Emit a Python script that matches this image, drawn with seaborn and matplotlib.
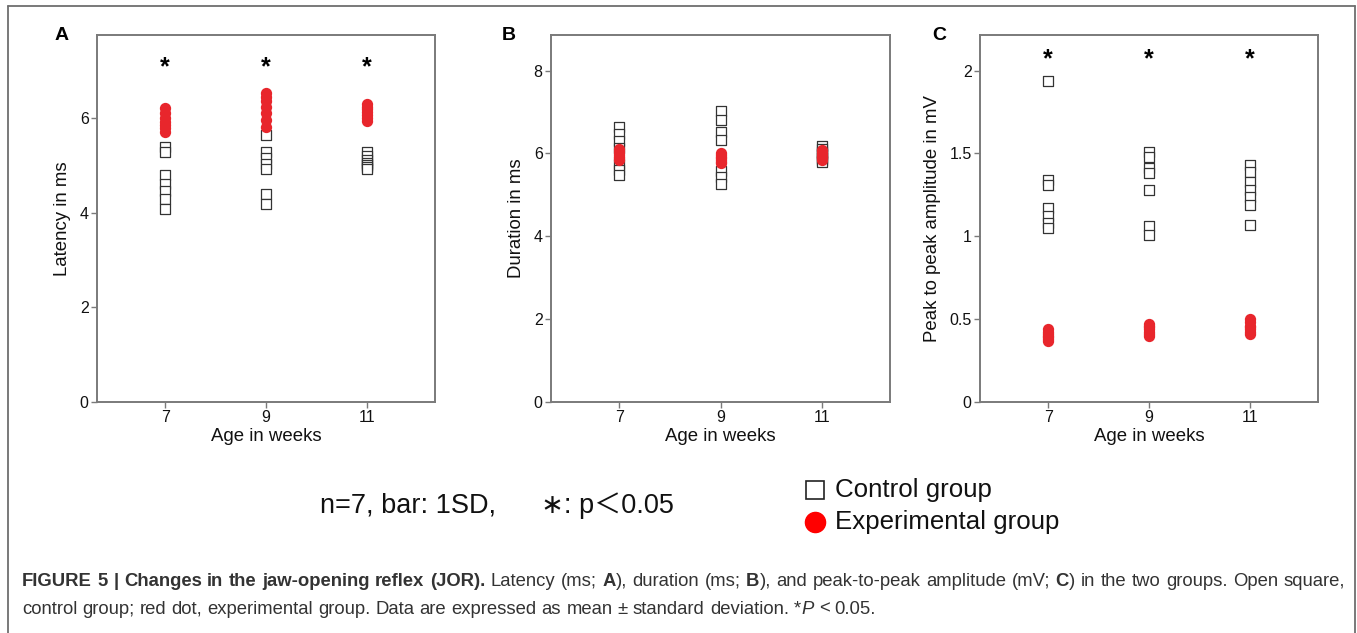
import numpy as np
import pandas as pd
import matplotlib
matplotlib.use("Agg")
import matplotlib.pyplot as plt
import seaborn as sns
from matplotlib.lines import Line2D
from matplotlib.transforms import ScaledTranslation

# ---------------- data ----------------
weeks = [7, 9, 11]
groups = ["Control group", "Experimental group"]

latency_control = [[5.38, 5.27, 4.80, 4.60, 4.45, 4.28, 4.08],
                   [5.64, 5.27, 5.15, 5.03, 4.92, 4.40, 4.18],
                   [5.27, 5.20, 5.12, 5.05, 5.00, 4.96, 4.92]]
latency_exp = [[6.20, 6.10, 6.00, 5.92, 5.85, 5.78, 5.70],
               [6.53, 6.45, 6.35, 6.22, 6.10, 5.95, 5.80],
               [6.30, 6.24, 6.18, 6.12, 6.06, 6.00, 5.94]]

duration_control = [[6.65, 6.48, 6.30, 6.12, 5.75, 5.60, 5.47],
                    [7.03, 6.82, 6.52, 6.32, 5.58, 5.42, 5.26],
                    [6.18, 6.10, 6.04, 5.98, 5.90, 5.84, 5.79]]
duration_exp = [[6.10, 6.05, 6.00, 5.96, 5.92, 5.88, 5.84],
                [6.02, 5.97, 5.92, 5.88, 5.84, 5.80, 5.77],
                [6.08, 6.03, 5.99, 5.95, 5.91, 5.88, 5.85]]

amplitude_control = [[1.94, 1.34, 1.31, 1.17, 1.12, 1.08, 1.05],
                     [1.51, 1.48, 1.41, 1.38, 1.28, 1.06, 1.01],
                     [1.43, 1.39, 1.33, 1.28, 1.24, 1.19, 1.07]]
amplitude_exp = [[0.44, 0.42, 0.41, 0.40, 0.39, 0.38, 0.37],
                 [0.47, 0.46, 0.45, 0.44, 0.42, 0.41, 0.40],
                 [0.50, 0.48, 0.46, 0.45, 0.44, 0.42, 0.41]]

star_weeks = [7, 9, 11]
latency_star_y = 7.17
amplitude_star_y = 2.095

panel_letters = ["A", "B", "C"]
y_labels = ["Latency in ms", "Duration in ms", "Peak to peak amplitude in mV"]
x_label = "Age in weeks"
y_ticks = [[0, 2, 4, 6], [0, 2, 4, 6, 8], [0, 0.5, 1, 1.5, 2]]
y_ticklabels = [["0", "2", "4", "6"], ["0", "2", "4", "6", "8"],
                ["0", "0.5", "1", "1.5", "2"]]
y_limits = [(0, 7.75), (0, 8.86), (0, 2.215)]

note_text = "n=7, bar: 1SD,      \u2217: p\uff1c0.05"

caption_line1 = [("FIGURE 5 | Changes in the jaw-opening reflex (JOR).", "bold", "normal"),
                 (" Latency (ms; ", "normal", "normal"),
                 ("A", "bold", "normal"),
                 ("), duration (ms; ", "normal", "normal"),
                 ("B", "bold", "normal"),
                 ("), and peak-to-peak amplitude (mV; ", "normal", "normal"),
                 ("C", "bold", "normal"),
                 (") in the two groups. Open square,", "normal", "normal")]
caption_line2 = [("control group; red dot, experimental group. Data are expressed as mean \u00b1 standard deviation. *", "normal", "normal"),
                 ("P", "normal", "italic"),
                 (" < 0.05.", "normal", "normal")]


def long_frame(ctrl, exp):
    rows = []
    for g, arr in zip(groups, [ctrl, exp]):
        for w, vals in zip(weeks, arr):
            for v in vals:
                rows.append({"week": w, "value": v, "group": g})
    return pd.DataFrame(rows)


frames = [long_frame(latency_control, latency_exp),
          long_frame(duration_control, duration_exp),
          long_frame(amplitude_control, amplitude_exp)]
star_levels = [latency_star_y, None, amplitude_star_y]

# ---------------- style ----------------
sns.set_style("ticks")
plt.rcParams["font.family"] = ["Liberation Sans", "DejaVu Sans"]

W, H = 1357, 633
fig = plt.figure(figsize=(W / 100, H / 100), dpi=100)
fig.patch.set_facecolor("white")

RED = "#e8262c"
SPINE = "#7a7a7a"

boxes = [(97, 35, 435, 402), (551, 35, 890, 402), (980, 35, 1318, 402)]
letter_x = [62, 509, 939]

for i, (l, t, r, b) in enumerate(boxes):
    ax = fig.add_axes([l / W, 1 - b / H, (r - l) / W, (b - t) / H])
    df = frames[i]
    sns.scatterplot(data=df[df.group == groups[0]], x="week", y="value", ax=ax,
                    marker="s", s=55, facecolor="white", edgecolor="#333333",
                    linewidth=0.9, legend=False, zorder=3)
    sns.scatterplot(data=df[df.group == groups[1]], x="week", y="value", ax=ax,
                    marker="o", s=66, color=RED, edgecolor=RED, linewidth=0,
                    legend=False, zorder=4)
    ax.set_xlim(5.65, 12.35)
    ax.set_ylim(*y_limits[i])
    ax.set_xticks(weeks)
    ax.set_xticklabels([str(w) for w in weeks])
    ax.set_yticks(y_ticks[i])
    ax.set_yticklabels(y_ticklabels[i])
    ax.set_xlabel(x_label, fontsize=13.4, color="#111111", labelpad=2)
    ax.set_ylabel(y_labels[i], fontsize=13.4, color="#111111", labelpad=6)
    for sp in ax.spines.values():
        sp.set_visible(True)
        sp.set_color(SPINE)
        sp.set_linewidth(1.4)
    ax.tick_params(axis="both", direction="out", length=4, width=1.0,
                   color=SPINE, labelsize=11.5, labelcolor="#111111", pad=2)
    if star_levels[i] is not None:
        off = ax.transData + ScaledTranslation(0, -8.2 / 72, fig.dpi_scale_trans)
        for w in star_weeks:
            ax.text(w, star_levels[i], "*", transform=off, ha="center",
                    va="baseline", fontsize=18, fontweight="bold", color="black")
    fig.text(letter_x[i] / W, 1 - 35 / H, panel_letters[i], ha="center",
             va="center", fontsize=14, fontweight="bold", color="black")

# ---------------- note & legend ----------------
fig.text(320 / W, 1 - 506 / H, note_text, ha="left", va="center",
         fontsize=19.5, color="#111111",
         family=["Liberation Sans", "Noto Sans CJK SC", "DejaVu Sans"])

fig.add_artist(Line2D([815 / W], [1 - 490 / H], marker="s", markersize=13,
                      markerfacecolor="white", markeredgecolor="#222222",
                      markeredgewidth=1.2, linestyle="none",
                      transform=fig.transFigure))
fig.add_artist(Line2D([815 / W], [1 - 522 / H], marker="o", markersize=14.5,
                      markerfacecolor="#ff0000", markeredgecolor="#ff0000",
                      linestyle="none", transform=fig.transFigure))
fig.text(835 / W, 1 - 490 / H, groups[0], ha="left", va="center",
         fontsize=18.6, color="#111111")
fig.text(835 / W, 1 - 522 / H, groups[1], ha="left", va="center",
         fontsize=18.6, color="#111111")

# ---------------- caption ----------------
renderer = fig.canvas.get_renderer()
CAP_SIZE = 13.3
CAP_COLOR = "#333333"


def text_width(s, weight, style):
    t = fig.text(0, 0, s, fontsize=CAP_SIZE, fontweight=weight, fontstyle=style)
    w = t.get_window_extent(renderer).width
    t.remove()
    return w


def layout(pieces):
    """Split pieces into words/spaces with natural widths."""
    items = []
    for txt, weight, style in pieces:
        sw = text_width("a a", weight, style) - text_width("aa", weight, style)
        parts = txt.split(" ")
        for k, p in enumerate(parts):
            if k > 0:
                items.append(("space", sw, None))
            if p:
                items.append(("word", text_width(p, weight, style), (p, weight, style)))
    return items


def draw_rich(pieces, x0, y, justify_to=None):
    items = layout(pieces)
    natural = sum(w for _, w, _ in items)
    n_sp = sum(1 for k, _, _ in items if k == "space")
    extra = 0.0
    if justify_to is not None and n_sp:
        extra = max(0.0, (justify_to - x0 - natural) / n_sp)
    x = x0
    for kind, w, info in items:
        if kind == "space":
            x += w + extra
        else:
            p, weight, style = info
            fig.text(x / W, 1 - y / H, p, ha="left", va="center",
                     fontsize=CAP_SIZE, fontweight=weight, fontstyle=style,
                     color=CAP_COLOR)
            x += w


draw_rich(caption_line1, 22, 581, justify_to=1345)
draw_rich(caption_line2, 22, 609)

# ---------------- outer frame ----------------
FRAME = "#6e6e6e"
fig.add_artist(Line2D([8 / W, 8 / W], [0, 1 - 6 / H], color=FRAME, lw=1.3,
                      transform=fig.transFigure))
fig.add_artist(Line2D([8 / W, 1355 / W], [1 - 6 / H, 1 - 6 / H], color=FRAME,
                      lw=1.3, transform=fig.transFigure))
fig.add_artist(Line2D([1355 / W, 1355 / W], [0, 1 - 6 / H], color=FRAME,
                      lw=1.3, transform=fig.transFigure))

fig.savefig("out.png", dpi=100, facecolor="white")
